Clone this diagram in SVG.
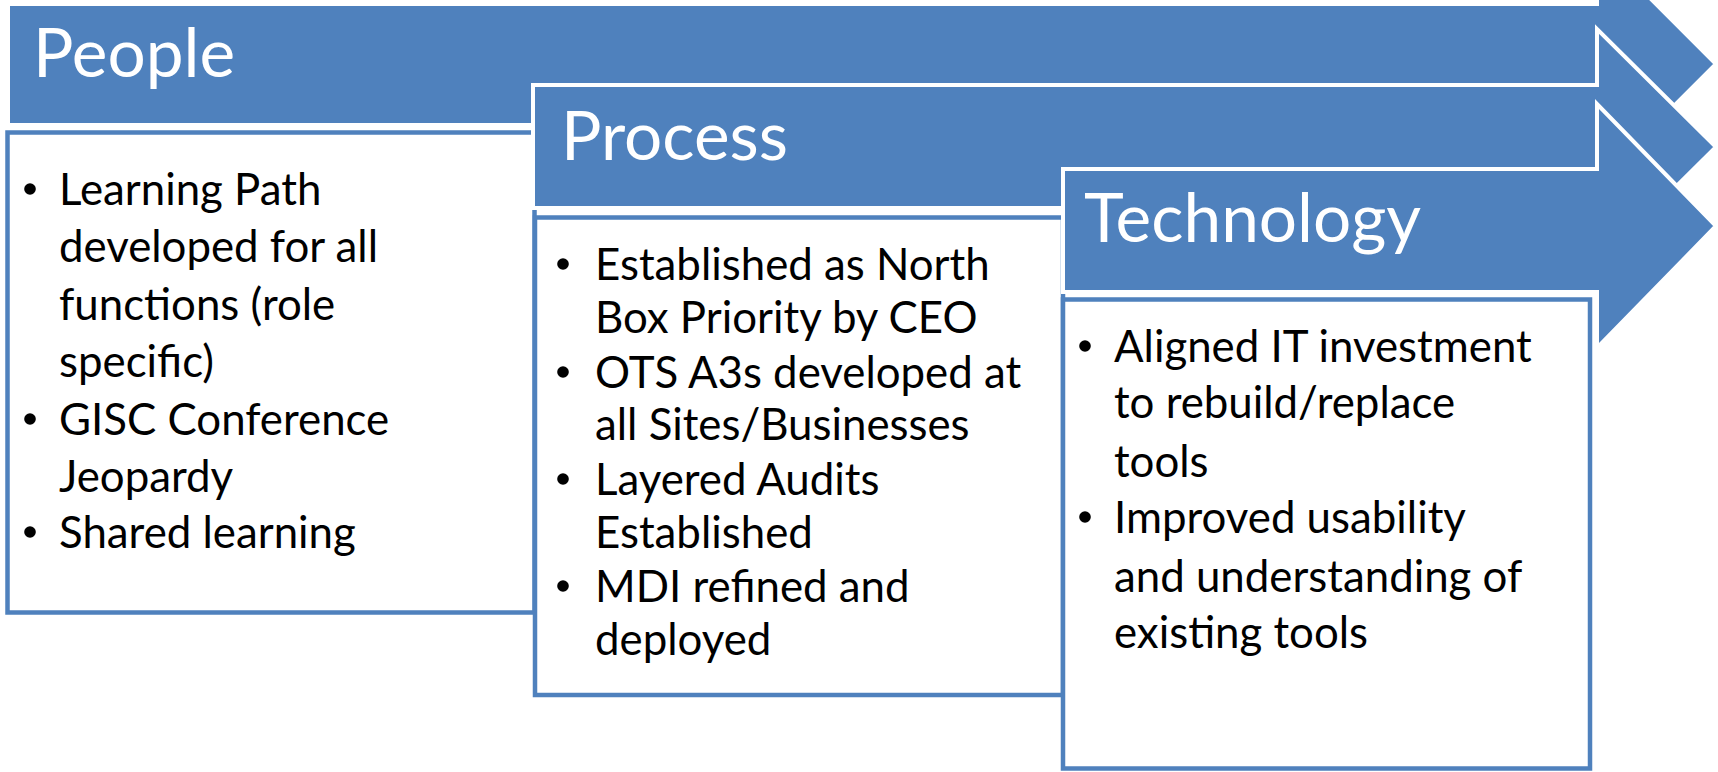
<svg xmlns="http://www.w3.org/2000/svg" width="1718" height="772" viewBox="0 0 1718 772">
  <style>
    .arrow { fill: #4F81BD; stroke: #FFFFFF; stroke-width: 4; stroke-linejoin: miter; }
    .box { fill: #FFFFFF; stroke: #4F81BD; stroke-width: 4.5; }
    .title { font-family: Lato, "Liberation Sans", sans-serif; font-size: 67.5px; fill: #FFFFFF; }
    .item { font-family: Lato, "Liberation Sans", sans-serif; font-size: 43.8px; fill: #000000; }
    .dot { fill: #000000; }
  </style>
  <rect width="1718" height="772" fill="#FFFFFF"/>

  <!-- People stage -->
  <g id="people">
    <polygon class="arrow" points="8,4 1597,4 1597,-55 1716,64 1597,183 1597,125 8,125"/>
    <text class="title" x="33" y="77">People</text>
  </g>
  <g id="people-notes">
    <rect class="box" x="7.5" y="132.5" width="527" height="480"/>
    <circle class="dot" cx="30" cy="189" r="5.8"/>
    <circle class="dot" cx="30" cy="419" r="5.8"/>
    <circle class="dot" cx="30" cy="532" r="5.8"/>
    <text class="item" x="59" y="205">Learning Path</text>
    <text class="item" x="59" y="262">developed for all</text>
    <text class="item" x="59" y="320">functions (role</text>
    <text class="item" x="59" y="377">specific)</text>
    <text class="item" x="59" y="435">GISC Conference</text>
    <text class="item" x="59" y="492">Jeopardy</text>
    <text class="item" x="59" y="548">Shared learning</text>
  </g>

  <!-- Process stage -->
  <g id="process">
    <polygon class="arrow" points="533,85 1597,85 1597,29 1716,147 1597,265 1597,208 533,208"/>
    <text class="title" x="561" y="160">Process</text>
  </g>
  <g id="process-notes">
    <rect class="box" x="535" y="217.5" width="528" height="477.5"/>
    <circle class="dot" cx="563" cy="264" r="5.8"/>
    <circle class="dot" cx="563" cy="372" r="5.8"/>
    <circle class="dot" cx="563" cy="479" r="5.8"/>
    <circle class="dot" cx="563" cy="586" r="5.8"/>
    <text class="item" x="595" y="280">Established as North</text>
    <text class="item" x="595" y="333">Box Priority by CEO</text>
    <text class="item" x="595" y="388">OTS A3s developed at</text>
    <text class="item" x="595" y="440">all Sites/Businesses</text>
    <text class="item" x="595" y="495">Layered Audits</text>
    <text class="item" x="595" y="548">Established</text>
    <text class="item" x="595" y="602">MDI refined and</text>
    <text class="item" x="595" y="655">deployed</text>
  </g>

  <!-- Technology stage -->
  <g id="technology">
    <polygon class="arrow" points="1063,169 1597,169 1597,104 1716,226 1597,348 1597,292 1063,292"/>
    <text class="title" x="1084" y="242">Technology</text>
  </g>
  <g id="technology-notes">
    <rect class="box" x="1063" y="299.5" width="527" height="469"/>
    <circle class="dot" cx="1085" cy="346" r="5.8"/>
    <circle class="dot" cx="1085" cy="517" r="5.8"/>
    <text class="item" x="1114" y="362">Aligned IT investment</text>
    <text class="item" x="1114" y="418">to rebuild/replace</text>
    <text class="item" x="1114" y="477">tools</text>
    <text class="item" x="1114" y="533">Improved usability</text>
    <text class="item" x="1114" y="592">and understanding of</text>
    <text class="item" x="1114" y="648">existing tools</text>
  </g>
</svg>
